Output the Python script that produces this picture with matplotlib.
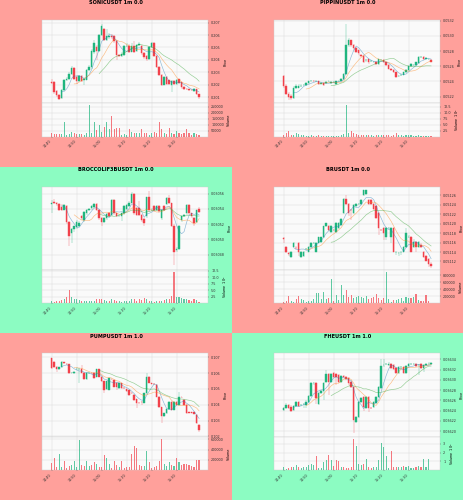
import numpy as np
import pandas as pd
import matplotlib.pyplot as plt
from matplotlib.patches import Rectangle

RED_BG = '#ffa09b'
GREEN_BG = '#8cfcc2'
UP = '#1fb57e'
DOWN = '#f2414b'

times = ['14:40', '14:50', '15:00', '15:10', '15:20', '15:30']

# ---- SONICUSDT
sonic_o = [.20225,.20220,.20150,.20120,.20090,.20160,.20240,.20245,.20290,.20335,
           .20265,.20230,.20270,.20240,.20240,.20320,.20340,.20460,.20500,.20470,
           .20600,.20650,.20560,.20585,.20595,.20590,.20555,.20440,.20430,.20440,
           .20510,.20510,.20465,.20510,.20470,.20520,.20510,.20455,.20430,.20410,
           .20505,.20535,.20430,.20345,.20280,.20200,.20260,.20235,.20200,.20230,
           .20205,.20245,.20220,.20180,.20165,.20165,.20160,.20153,.20165,.20124]
sonic_c = [.20218,.20140,.20115,.20085,.20160,.20235,.20245,.20290,.20335,.20250,
           .20230,.20270,.20230,.20250,.20320,.20345,.20470,.20535,.20470,.20600,
           .20670,.20560,.20590,.20595,.20585,.20555,.20440,.20430,.20450,.20510,
           .20512,.20465,.20510,.20465,.20520,.20525,.20455,.20425,.20410,.20505,
           .20535,.20430,.20345,.20280,.20200,.20260,.20205,.20210,.20230,.20210,
           .20240,.20215,.20180,.20165,.20163,.20158,.20158,.20165,.20124,.20105]
sonic_h = [.20245,.20230,.20160,.20125,.20170,.20245,.20260,.20300,.20350,.20345,
           .20275,.20280,.20275,.20260,.20330,.20360,.20490,.20560,.20520,.20610,
           .20690,.20660,.20650,.20620,.20610,.20600,.20560,.20450,.20460,.20520,
           .20540,.20530,.20540,.20550,.20530,.20545,.20520,.20460,.20440,.20510,
           .20545,.20545,.20440,.20350,.20290,.20270,.20270,.20240,.20240,.20240,
           .20250,.20250,.20225,.20190,.20175,.20170,.20170,.20175,.20170,.20130]
sonic_l = [.20205,.20130,.20100,.20075,.20085,.20150,.20230,.20240,.20280,.20240,
           .20210,.20220,.20220,.20200,.20235,.20310,.20330,.20450,.20400,.20460,
           .20590,.20550,.20550,.20570,.20570,.20540,.20400,.20420,.20420,.20430,
           .20500,.20455,.20460,.20455,.20460,.20510,.20440,.20410,.20390,.20400,
           .20495,.20420,.20335,.20270,.20190,.20195,.20195,.20200,.20140,.20200,
           .20200,.20210,.20170,.20160,.20155,.20150,.20150,.20145,.20115,.20085]
sonic_v = [29000,23000,23000,23000,23000,120000,14000,23000,43000,34000,
           23000,20000,20000,14000,29000,263000,34000,120000,57000,100000,
           43000,80000,126000,63000,171000,63000,71000,77000,17000,23000,
           14000,63000,40000,34000,29000,29000,63000,34000,29000,14000,
           29000,43000,34000,126000,63000,34000,23000,71000,34000,20000,
           51000,29000,23000,29000,63000,34000,14000,34000,23000,11000]

# ---- PIPPINUSDT
pip_o = [.05247,.05234,.05224,.05221,.05218,.05232,.05232,.05234,.05235,.05235,
         .05238,.05241,.05241,.05240,.05240,.05237,.05238,.05238,.05240,.05238,
         .05239,.05236,.05240,.05241,.05243,.05250,.05288,.05294,.05288,.05284,
         .05281,.05275,.05274,.05268,.05269,.05267,.05266,.05266,.05263,.05268,
         .05268,.05265,.05262,.05257,.05255,.05252,.05247,.05248,.05249,.05252,
         .05255,.05260,.05262,.05262,.05264,.05272,.05272,.05270,.05269,.05268]
pip_c = [.05234,.05224,.05219,.05218,.05231,.05234,.05234,.05234,.05235,.05238,
         .05240,.05241,.05240,.05240,.05236,.05238,.05235,.05239,.05240,.05239,
         .05239,.05240,.05240,.05243,.05250,.05288,.05294,.05288,.05284,.05279,
         .05277,.05274,.05266,.05268,.05265,.05267,.05266,.05263,.05269,.05268,
         .05265,.05262,.05257,.05255,.05252,.05246,.05247,.05249,.05252,.05255,
         .05260,.05263,.05262,.05265,.05272,.05272,.05269,.05271,.05269,.05266]
pip_h = [.05248,.05236,.05226,.05223,.05234,.05236,.05236,.05236,.05236,.05239,
         .05241,.05242,.05242,.05241,.05241,.05239,.05239,.05240,.05241,.05240,
         .05240,.05241,.05241,.05244,.05251,.05316,.05297,.05295,.05289,.05285,
         .05282,.05276,.05275,.05270,.05270,.05268,.05267,.05267,.05270,.05269,
         .05269,.05266,.05263,.05258,.05256,.05253,.05248,.05250,.05253,.05256,
         .05261,.05264,.05263,.05266,.05273,.05273,.05273,.05272,.05270,.05269]
pip_l = [.05232,.05222,.05216,.05216,.05217,.05230,.05231,.05233,.05234,.05234,
         .05237,.05240,.05239,.05239,.05235,.05236,.05234,.05237,.05239,.05237,
         .05238,.05235,.05239,.05240,.05242,.05249,.05285,.05286,.05282,.05277,
         .05275,.05272,.05264,.05266,.05263,.05266,.05265,.05262,.05262,.05267,
         .05264,.05261,.05256,.05254,.05251,.05245,.05246,.05247,.05248,.05251,
         .05254,.05259,.05261,.05261,.05263,.05271,.05268,.05269,.05268,.05265]
pip_v = [85000,142000,256000,60000,70000,142000,110000,60000,50000,40000,
         45000,50000,35000,40000,60000,45000,40000,35000,40000,30000,
         35000,40000,45000,60000,120000,1300000,170000,230000,140000,90000,
         70000,60000,80000,55000,75000,50000,45000,60000,80000,55000,
         70000,60000,50000,45000,55000,150000,65000,50000,40000,55000,
         70000,50000,45000,40000,50000,35000,40000,30000,35000,30000]

# ---- BROCCOLIF3BUSDT
broc_o = [.030546,.030549,.030548,.030546,.030543,.030539,.030544,.030523,.030509,.030513,
          .030516,.030518,.030530,.030525,.030534,.030539,.030541,.030543,.030546,.030539,
          .030528,.030523,.030528,.030534,.030532,.030552,.030534,.030531,.030531,.030534,
          .030540,.030544,.030548,.030560,.030541,.030541,.030532,.030527,.030530,.030555,
          .030539,.030544,.030538,.030544,.030528,.030544,.030546,.030554,.030547,.030518,
          .030486,.030488,.030525,.030530,.030534,.030545,.030534,.030528,.030523,.030540]
broc_c = [.030547,.030548,.030546,.030539,.030539,.030545,.030523,.030504,.030513,.030517,
          .030523,.030522,.030528,.030536,.030539,.030540,.030544,.030546,.030539,.030528,
          .030523,.030528,.030533,.030531,.030552,.030534,.030531,.030531,.030534,.030544,
          .030545,.030548,.030560,.030534,.030532,.030532,.030525,.030521,.030555,.030538,
          .030539,.030538,.030544,.030537,.030539,.030539,.030554,.030547,.030518,.030484,
          .030488,.030517,.030530,.030532,.030545,.030534,.030530,.030522,.030538,.030536]
broc_h = [.030552,.030553,.030549,.030547,.030546,.030546,.030545,.030524,.030515,.030518,
          .030525,.030524,.030532,.030537,.030540,.030541,.030545,.030547,.030547,.030540,
          .030529,.030529,.030534,.030536,.030553,.030553,.030535,.030533,.030535,.030545,
          .030546,.030550,.030562,.030561,.030542,.030550,.030533,.030528,.030556,.030563,
          .030541,.030545,.030545,.030545,.030540,.030545,.030555,.030558,.030548,.030520,
          .030490,.030519,.030531,.030533,.030546,.030546,.030535,.030529,.030539,.030543]
broc_l = [.030535,.030546,.030544,.030537,.030537,.030538,.030520,.030491,.030495,.030510,
          .030514,.030516,.030526,.030523,.030532,.030537,.030539,.030541,.030537,.030526,
          .030518,.030521,.030526,.030529,.030530,.030532,.030529,.030530,.030524,.030532,
          .030539,.030543,.030547,.030532,.030530,.030530,.030523,.030517,.030528,.030536,
          .030537,.030536,.030537,.030535,.030526,.030537,.030545,.030546,.030516,.030467,
          .030484,.030486,.030523,.030529,.030532,.030532,.030528,.030517,.030521,.030535]
broc_v = [104000,65000,91000,104000,130000,156000,260000,521000,260000,156000,
          156000,130000,104000,78000,91000,78000,104000,91000,156000,156000,
          169000,130000,78000,78000,182000,130000,78000,78000,65000,91000,
          78000,104000,156000,156000,104000,156000,130000,195000,182000,78000,
          78000,65000,91000,78000,91000,130000,182000,156000,286000,1198000,
          260000,234000,221000,182000,156000,130000,104000,156000,130000,52000]

# ---- BRUSDT
br_o = [.051169,.051151,.051137,.051130,.051151,.051149,.051160,.051130,.051132,.051146,
        .051141,.051151,.051158,.051141,.051160,.051162,.051172,.051194,.051194,.051183,
        .051187,.051183,.051190,.051197,.051222,.051251,.051241,.051229,.051222,.051237,
        .051241,.051241,.051260,.051262,.051250,.051250,.051241,.051237,.051222,.051187,
        .051190,.051171,.051190,.051171,.051190,.051139,.051137,.051139,.051141,.051151,
        .051172,.051171,.051151,.051162,.051151,.051155,.051141,.051132,.051125,.051115]
br_c = [.051168,.051141,.051136,.051141,.051160,.051148,.051141,.051141,.051141,.051147,
        .051151,.051160,.051159,.051160,.051171,.051171,.051194,.051201,.051187,.051194,
        .051186,.051201,.051201,.051209,.051251,.051241,.051222,.051228,.051239,.051241,
        .051242,.051250,.051271,.051271,.051241,.051241,.051230,.051211,.051190,.051186,
        .051181,.051190,.051190,.051190,.051141,.051139,.051137,.051139,.051150,.051181,
        .051172,.051141,.051162,.051151,.051162,.051151,.051130,.051122,.051115,.051111]
br_h = [.051172,.051152,.051139,.051142,.051161,.051152,.051161,.051142,.051142,.051149,
        .051152,.051161,.051161,.051161,.051172,.051172,.051195,.051202,.051196,.051196,
        .051189,.051203,.051203,.051211,.051255,.051260,.051243,.051231,.051241,.051243,
        .051244,.051252,.051272,.051272,.051252,.051252,.051243,.051239,.051224,.051189,
        .051192,.051192,.051192,.051192,.051192,.051141,.051139,.051141,.051152,.051190,
        .051175,.051173,.051168,.051164,.051164,.051158,.051143,.051134,.051127,.051118]
br_l = [.051160,.051138,.051132,.051128,.051150,.051146,.051132,.051128,.051130,.051144,
        .051139,.051149,.051156,.051139,.051158,.051160,.051170,.051192,.051185,.051181,
        .051184,.051181,.051188,.051195,.051220,.051239,.051215,.051207,.051220,.051235,
        .051239,.051239,.051258,.051260,.051239,.051239,.051228,.051209,.051175,.051184,
        .051165,.051165,.051188,.051160,.051139,.051133,.051132,.051134,.051139,.051149,
        .051170,.051139,.051149,.051140,.051149,.051149,.051128,.051120,.051108,.051106]
br_v = [49000,78000,215000,78000,49000,117000,215000,117000,98000,49000,
        68000,78000,117000,293000,293000,117000,312000,117000,146000,702000,
        59000,244000,98000,537000,244000,371000,195000,244000,146000,195000,
        215000,195000,146000,215000,117000,146000,195000,273000,146000,98000,
        146000,898000,117000,49000,98000,98000,117000,146000,78000,176000,
        146000,146000,195000,263000,98000,59000,78000,244000,78000,20000]

# ---- PUMPUSDT
pump_o = [.10694,.10673,.10641,.10625,.10637,.10668,.10660,.10658,.10603,.10599,
          .10624,.10624,.10624,.10603,.10561,.10603,.10599,.10603,.10578,.10624,
          .10578,.10547,.10498,.10494,.10561,.10557,.10540,.10505,.10536,.10505,
          .10498,.10494,.10473,.10463,.10435,.10414,.10420,.10410,.10473,.10578,
          .10536,.10532,.10525,.10452,.10385,.10326,.10347,.10372,.10420,.10368,
          .10420,.10400,.10448,.10431,.10400,.10351,.10351,.10351,.10337,.10274]
pump_c = [.10631,.10641,.10624,.10637,.10673,.10666,.10658,.10599,.10603,.10610,
          .10626,.10626,.10603,.10561,.10603,.10603,.10598,.10567,.10624,.10578,
          .10547,.10494,.10547,.10567,.10560,.10515,.10515,.10536,.10505,.10504,
          .10484,.10463,.10472,.10431,.10410,.10413,.10419,.10473,.10578,.10540,
          .10534,.10530,.10452,.10385,.10326,.10347,.10372,.10420,.10368,.10420,
          .10400,.10452,.10447,.10400,.10347,.10350,.10350,.10343,.10284,.10238]
pump_h = [.10696,.10675,.10645,.10640,.10676,.10672,.10665,.10660,.10608,.10612,
          .10640,.10630,.10650,.10605,.10606,.10607,.10603,.10605,.10628,.10627,
          .10580,.10549,.10550,.10570,.10565,.10559,.10542,.10539,.10538,.10510,
          .10500,.10496,.10478,.10465,.10437,.10418,.10424,.10476,.10600,.10582,
          .10540,.10536,.10528,.10455,.10388,.10350,.10375,.10424,.10422,.10424,
          .10423,.10480,.10452,.10434,.10403,.10356,.10356,.10354,.10340,.10277]
pump_l = [.10625,.10630,.10610,.10620,.10634,.10660,.10650,.10595,.10598,.10596,
          .10620,.10540,.10600,.10555,.10558,.10598,.10594,.10562,.10575,.10574,
          .10542,.10475,.10495,.10490,.10555,.10510,.10490,.10500,.10500,.10500,
          .10480,.10455,.10468,.10425,.10380,.10408,.10400,.10408,.10470,.10535,
          .10530,.10525,.10448,.10380,.10284,.10322,.10344,.10368,.10364,.10365,
          .10396,.10398,.10440,.10396,.10342,.10346,.10345,.10340,.10275,.10230]
pump_v = [133000,233000,67000,320000,67000,167000,40000,80000,100000,167000,
          53000,587000,100000,80000,173000,80000,107000,160000,120000,67000,
          67000,293000,233000,120000,33000,167000,100000,67000,167000,33000,
          67000,67000,320000,467000,433000,100000,80000,80000,367000,160000,
          33000,67000,80000,167000,613000,120000,80000,160000,100000,80000,
          233000,160000,100000,120000,120000,93000,80000,67000,187000,187000]

# ---- FHEUSDT
fhe_o = [.036242,.036246,.036251,.036248,.036241,.036249,.036257,.036251,.036253,.036251,
         .036257,.036269,.036293,.036293,.036253,.036274,.036279,.036295,.036312,.036295,
         .036313,.036312,.036310,.036295,.036308,.036306,.036303,.036295,.036287,.036218,
         .036228,.036257,.036267,.036246,.036267,.036246,.036248,.036254,.036267,.036284,
         .036329,.036331,.036329,.036331,.036329,.036323,.036313,.036326,.036326,.036314,
         .036327,.036332,.036331,.036331,.036329,.036331,.036323,.036329,.036331,.036331]
fhe_c = [.036246,.036251,.036246,.036240,.036249,.036257,.036249,.036251,.036253,.036257,
         .036269,.036293,.036293,.036264,.036274,.036279,.036293,.036312,.036295,.036312,
         .036306,.036306,.036295,.036308,.036305,.036301,.036293,.036287,.036222,.036228,
         .036257,.036264,.036248,.036267,.036246,.036245,.036257,.036267,.036287,.036327,
         .036330,.036332,.036331,.036323,.036321,.036313,.036326,.036326,.036314,.036327,
         .036332,.036332,.036331,.036327,.036329,.036323,.036329,.036331,.036331,.036334]
fhe_h = [.036248,.036254,.036253,.036250,.036251,.036259,.036259,.036253,.036255,.036260,
         .036271,.036295,.036296,.036295,.036276,.036281,.036295,.036320,.036314,.036314,
         .036315,.036314,.036312,.036310,.036310,.036308,.036305,.036297,.036289,.036230,
         .036259,.036266,.036269,.036269,.036269,.036248,.036259,.036269,.036289,.036340,
         .036340,.036334,.036335,.036333,.036331,.036325,.036328,.036328,.036328,.036329,
         .036334,.036334,.036333,.036333,.036331,.036333,.036331,.036333,.036336,.036336]
fhe_l = [.036240,.036244,.036244,.036238,.036239,.036247,.036247,.036249,.036245,.036245,
         .036255,.036267,.036290,.036252,.036251,.036272,.036260,.036293,.036270,.036293,
         .036304,.036290,.036293,.036293,.036303,.036299,.036291,.036285,.036197,.036216,
         .036226,.036255,.036240,.036244,.036238,.036243,.036246,.036252,.036265,.036282,
         .036326,.036329,.036327,.036321,.036319,.036311,.036311,.036320,.036312,.036312,
         .036325,.036330,.036329,.036325,.036310,.036321,.036315,.036327,.036329,.036329]
fhe_v = [400000,80000,280000,320000,400000,560000,400000,240000,320000,400000,
         600000,720000,600000,1600000,240000,200000,880000,1120000,1680000,1200000,
         480000,1200000,1000000,400000,320000,200000,240000,320000,3600000,2800000,
         680000,520000,720000,1280000,400000,280000,400000,320000,1200000,3080000,
         2600000,1600000,240000,2200000,400000,320000,320000,400000,480000,320000,
         480000,240000,240000,320000,480000,400000,1280000,320000,1280000,20000]

panels = [
    dict(title='SONICUSDT 1m 0.0', bg=RED_BG, o=sonic_o, h=sonic_h, l=sonic_l, c=sonic_c, v=sonic_v,
         ylim=(0.20051, 0.20721), yt=[0.201, 0.202, 0.203, 0.204, 0.205, 0.206, 0.207], yf='%.3f',
         vt=[50000, 100000, 150000, 200000, 250000], vl=['50000', '100000', '150000', '200000', '250000'],
         vlabel='Volume'),
    dict(title='PIPPINUSDT 1m 0.0', bg=RED_BG, o=pip_o, h=pip_h, l=pip_l, c=pip_c, v=pip_v,
         ylim=(0.052112, 0.053209), yt=[0.0522, 0.0524, 0.0526, 0.0528, 0.0530, 0.0532], yf='%.4f',
         vt=[250000, 500000, 750000, 1000000, 1250000], vl=['2.5', '5.0', '7.5', '10.0', '12.5'],
         vlabel='Volume  $10^{5}$'),
    dict(title='BROCCOLIF3BUSDT 1m 0.0', bg=GREEN_BG, o=broc_o, h=broc_h, l=broc_l, c=broc_c, v=broc_v,
         ylim=(0.030460, 0.030569), yt=[0.03048, 0.03050, 0.03052, 0.03054, 0.03056], yf='%.5f',
         vt=[250000, 500000, 750000, 1000000, 1250000], vl=['2.5', '5.0', '7.5', '10.0', '12.5'],
         vlabel='Volume  $10^{5}$'),
    dict(title='BRUSDT 1m 0.0', bg=RED_BG, o=br_o, h=br_h, l=br_l, c=br_c, v=br_v,
         ylim=(0.051102, 0.051278),
         yt=[0.05112, 0.05114, 0.05116, 0.05118, 0.05120, 0.05122, 0.05124, 0.05126], yf='%.5f',
         vt=[200000, 400000, 600000, 800000], vl=['200000', '400000', '600000', '800000'],
         vlabel='Volume'),
    dict(title='PUMPUSDT 1m 1.0', bg=RED_BG, o=pump_o, h=pump_h, l=pump_l, c=pump_c, v=pump_v,
         ylim=(0.10198, 0.10725), yt=[0.102, 0.103, 0.104, 0.105, 0.106, 0.107], yf='%.3f',
         vt=[200000, 400000, 600000], vl=['200000', '400000', '600000'],
         vlabel='Volume'),
    dict(title='FHEUSDT 1m 1.0', bg=GREEN_BG, o=fhe_o, h=fhe_h, l=fhe_l, c=fhe_c, v=fhe_v,
         ylim=(0.036189, 0.036352),
         yt=[0.03620, 0.03622, 0.03624, 0.03626, 0.03628, 0.03630, 0.03632, 0.03634], yf='%.5f',
         vt=[1000000, 2000000, 3000000], vl=['1', '2', '3'],
         vlabel='Volume  $10^{6}$'),
]

fig = plt.figure(figsize=(4.64, 5.0), dpi=100)
fs = 2.4
cw, ch = 0.5, 1 / 3

for k, p in enumerate(panels):
    col, row = k % 2, k // 2
    x0, y0 = col * cw, 1 - (row + 1) * ch
    fig.patches.append(Rectangle((x0, y0), cw, ch, transform=fig.transFigure,
                                 facecolor=p['bg'], edgecolor='none', zorder=-5))
    fig.text(x0 + cw / 2, y0 + ch - 0.006, p['title'], ha='center', va='center',
             fontsize=3.6, fontweight='bold')

    left = x0 + cw * 0.18
    w = cw * (0.898 - 0.18)
    axp = fig.add_axes([left, y0 + ch * (1 - 0.62), w, ch * (0.62 - 0.12)])
    axv = fig.add_axes([left, y0 + ch * (1 - 0.82), w, ch * 0.20], sharex=axp)

    o, h, l, c, v = (np.array(p[key]) for key in 'ohlcv')
    x = np.arange(len(c))
    up = c >= o
    colors = np.where(up, UP, DOWN)

    axp.vlines(x, l, h, colors=colors, linewidth=0.3, alpha=0.8, zorder=2)
    axp.bar(x, np.abs(c - o), bottom=np.minimum(o, c), width=0.6,
            color=colors, edgecolor=colors, linewidth=0.3, zorder=3)
    cs = pd.Series(c)
    for n, mc in zip((5, 10, 20), ('#1f77b4', '#ff7f0e', '#2ca02c')):
        axp.plot(x, cs.rolling(n).mean(), color=mc, lw=0.45, alpha=0.5, zorder=4)

    axv.bar(x, v, width=0.5, color=colors, alpha=0.7, linewidth=0, zorder=3)

    for ax in (axp, axv):
        ax.set_facecolor('#fafafa')
        ax.grid(True, color='#dcdcdc', lw=0.35)
        ax.set_axisbelow(True)
        ax.yaxis.tick_right()
        ax.yaxis.set_label_position('right')
        ax.tick_params(labelsize=fs, length=1, width=0.3, pad=1, colors='#333333')
        for s in ax.spines.values():
            s.set_color('#cccccc')
            s.set_linewidth(0.3)

    axp.set_xlim(-4, 62.7)
    axp.set_ylim(*p['ylim'])
    axp.set_yticks(p['yt'])
    axp.set_yticklabels([p['yf'] % t for t in p['yt']])
    axp.set_ylabel('Price', fontsize=fs, labelpad=2)
    axp.tick_params(axis='x', labelbottom=False)

    axv.set_ylim(0, max(v) * 1.065)
    axv.set_yticks(p['vt'])
    axv.set_yticklabels(p['vl'])
    axv.set_ylabel(p['vlabel'], fontsize=fs, labelpad=2)
    axv.set_xticks([0, 10, 20, 30, 40, 50])
    axv.set_xticklabels(times, rotation=45, ha='right', fontsize=fs)

fig.savefig('out.png', dpi=100)
